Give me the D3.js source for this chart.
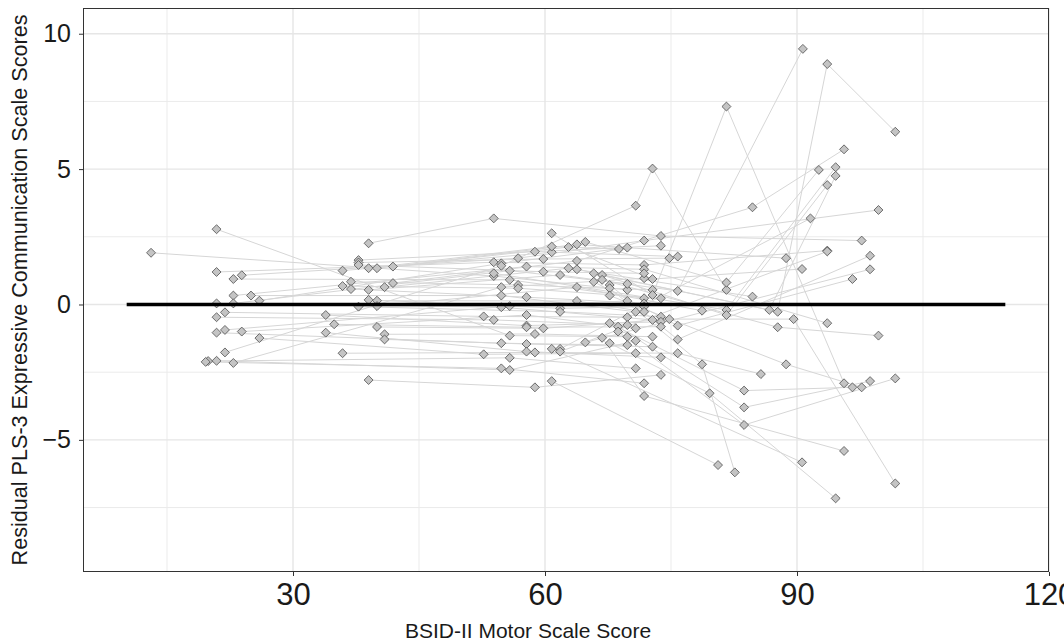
<!DOCTYPE html>
<html>
<head>
<meta charset="utf-8">
<script src="https://cdn.jsdelivr.net/npm/d3@7"></script>
<style>
  html, body { margin: 0; padding: 0; background: #ffffff; }
  svg { display: block; }
</style>
</head>
<body>
<svg id="chart" width="1064" height="644"></svg>
<script>
// Child trajectories: each child's visits in order (motor score, residual)
const child = [
  1,1,1, 2,2,2, 3,3,3,3, 4,4,4,4, 5,5,5, 6,6,6,6, 7,7,7, 8,8,8, 9,9,9, 10,10,10,
  11,11,11, 12,12,12, 13,13,13, 14,14,14, 15,15,15, 16,16,16, 17,17,17,17,17,
  18,18,18, 19,19,19, 20,20,20, 21,21,21,
  22,22,22,22, 23,23,23, 24,24,24, 25,25,25, 26,26,26, 27,27,27, 28,28,28,28,
  29,29,29, 30,30,30, 31,31,31, 32,32,32, 33,33,33,33, 34,34,34, 35,35,35,35,
  36,36,36, 37,37,37, 38,38,38, 39,39,39, 40,40,40, 41,41,41, 42,42,42,42,42,
  43,43,43, 44,44,44, 45,45,45, 46,46,46,46, 47,47,47,
  48,48,48,48, 49,49,49, 50,50,50,50, 51,51,51, 52,52,52, 53,53,53, 54,54,54,
  55,55,55, 56,56,56, 57,57,57, 58,58,58, 59,59,59, 60,60,60, 61,61,61,
  62,62,62, 63,63,63, 64,64, 65,65, 66,66, 67,67, 68,68
];
const motor = [
  13.1,53.9,69.8, 20.9,55.8,69.8, 20.9,53.9,71.8,93.6, 23.9,56.8,71.8,99.7,
  22.9,55.8,71.8, 22.9,57.8,71.8,93.6, 25.0,54.8,70.8, 26.0,54.8,69.8,
  20.9,54.8,72.8, 22.9,55.8,69.8, 21.9,52.7,69.8, 20.9,53.9,69.8,
  20.9,54.8,69.8, 21.9,55.8,69.8, 23.9,57.8,70.8, 26.0,52.7,70.8,
  21.9,54.8,70.8,72.8,81.6, 19.9,55.8,70.8, 19.6,54.8,71.8, 20.9,55.8,70.8,
  22.9,54.8,71.8,
  39.0,53.9,73.8,97.7, 37.8,58.8,73.8, 37.8,59.8,74.8, 37.8,59.8,71.8,
  35.9,60.8,75.8, 39.0,60.8,68.8, 40.0,62.8,72.8,90.6, 41.9,63.8,88.7,
  36.9,56.8,72.8, 35.9,56.8,73.8, 36.9,57.8,71.8, 39.0,61.8,75.8,90.7,
  40.9,62.8,84.7, 41.9,63.8,84.7,95.6, 39.0,61.8,71.8, 40.0,63.8,71.8,
  37.8,61.8,73.8, 40.0,63.8,78.7, 33.9,57.8,73.8, 34.9,57.8,73.8,
  40.0,59.8,74.8,89.6,101.7, 40.9,58.8,72.8, 40.9,57.8,72.8, 33.9,57.8,73.8,
  35.9,58.8,75.8,85.7, 39.0,58.8,73.8,
  60.8,72.8,81.6,95.6, 64.8,81.6,92.6, 63.8,87.7,93.6,101.7, 53.9,81.6,94.6,
  65.8,86.7,94.6, 66.8,81.6,93.6, 66.8,87.7,99.7, 65.8,75.8,96.6,
  67.7,75.8,98.7, 67.7,78.7,82.6, 67.7,88.7,97.7, 67.7,83.7,96.6,
  68.7,83.7,98.7, 68.7,83.7,101.7, 66.8,71.8,95.6, 67.7,79.6,94.6,
  64.8,98.7, 60.8,90.6, 61.8,91.6, 61.8,93.6, 60.8,80.6
];
const resid = [
  1.91,1.05,0.54, 2.78,-1.15,-1.19, 1.20,1.56,1.46,1.99, 1.08,1.71,2.36,3.49,
  0.94,0.91,0.23, 0.33,1.40,1.30,-0.69, 0.33,0.33,-0.27, 0.14,1.52,2.10,
  0.04,-0.10,-0.57, 0.04,1.25,0.76, -0.29,-0.44,-0.47, -0.47,-0.57,-0.76,
  -1.04,-1.43,-1.50, -0.94,-0.06,0.13, -1.00,-0.39,-0.88, -1.24,-1.84,-1.80,
  -1.77,1.43,3.65,5.02,0.54, -2.09,-1.97,-2.36, -2.12,-2.36,-2.91, -2.08,-2.42,-1.34,
  -2.16,0.64,0.97,
  2.26,3.18,2.53,2.36, 1.64,1.95,2.17, 1.55,1.68,1.71, 1.46,1.21,1.15,
  1.25,1.93,1.77, 1.34,2.14,2.05, 1.34,2.12,0.94,1.31, 1.40,2.22,1.71,
  0.84,0.72,0.54, 0.68,0.60,0.23, 0.57,0.27,0.04, 0.54,1.09,0.50,9.44,
  0.64,1.34,0.29, 0.79,1.61,3.59,5.73, 0.17,-0.14,-0.08, 0.14,0.13,-0.27,
  -0.08,-0.27,-0.45, -0.06,0.64,-0.23, -0.39,-0.78,-0.64, -0.73,-0.84,-0.82,
  -0.83,-0.88,-0.54,-0.54,-6.61, -1.10,-1.09,-1.19, -1.29,-1.46,-1.56, -1.04,-1.74,-1.95,
  -1.80,-1.77,-1.80,-2.57, -2.79,-3.06,-2.60,
  2.63,0.35,7.31,-2.91, 2.31,0.81,4.97, 1.30,-0.27,8.88,6.38, 1.15,-0.20,5.07,
  1.15,-0.20,4.75, 1.09,-0.39,4.41, 0.91,-0.84,-1.15, 0.84,-0.78,0.94,
  0.72,-1.29,1.80, 0.60,-2.21,-6.20, 0.33,-2.21,-3.06, -0.69,-3.18,-3.06,
  -0.82,-3.80,-2.83, -1.00,-4.45,-2.73, -1.23,-3.38,-5.41, -1.43,-3.28,-7.16,
  -1.40,1.30, -1.64,-5.83, -1.64,3.18, -1.74,1.96, -2.83,-5.93
];

// Axis ticks and reference line
const xMajor = [30, 60, 90, 120];
const xMinor = [15, 45, 75, 105];
const yMajor = [-5, 0, 5, 10];
const yMinor = [-7.5, -2.5, 2.5, 7.5];
const refLine = { from: 10.2, to: 114.8, value: 0 };

const xTitle = "BSID-II Motor Scale Score";
const yTitle = "Residual PLS-3 Expressive Communication Scale Scores";

const panel = { left: 83, right: 1049, top: 8, bottom: 572 };

const svg = d3.select("#chart");

const x = d3.scaleLinear().domain([5.0, 120.0]).range([panel.left, panel.right]);
const y = d3.scaleLinear().domain([-9.88, 10.95]).range([panel.bottom, panel.top]);

const points = child.map((c, i) => ({ child: c, motor: motor[i], resid: resid[i] }));
const byChild = d3.group(points, d => d.child);

// background
svg.append("rect")
  .attr("x", panel.left).attr("y", panel.top)
  .attr("width", panel.right - panel.left).attr("height", panel.bottom - panel.top)
  .attr("fill", "#ffffff");

const grid = svg.append("g");
grid.selectAll("line.vmin").data(xMinor).join("line")
  .attr("x1", d => x(d)).attr("x2", d => x(d))
  .attr("y1", panel.top).attr("y2", panel.bottom)
  .attr("stroke", "#ebebeb").attr("stroke-width", 1);
grid.selectAll("line.hmin").data(yMinor).join("line")
  .attr("y1", d => y(d)).attr("y2", d => y(d))
  .attr("x1", panel.left).attr("x2", panel.right)
  .attr("stroke", "#ebebeb").attr("stroke-width", 1);
grid.selectAll("line.vmaj").data(xMajor).join("line")
  .attr("x1", d => x(d)).attr("x2", d => x(d))
  .attr("y1", panel.top).attr("y2", panel.bottom)
  .attr("stroke", "#e6e6e6").attr("stroke-width", 1.4);
grid.selectAll("line.hmaj").data(yMajor).join("line")
  .attr("y1", d => y(d)).attr("y2", d => y(d))
  .attr("x1", panel.left).attr("x2", panel.right)
  .attr("stroke", "#e6e6e6").attr("stroke-width", 1.4);

// trajectories
const line = d3.line().x(d => x(d.motor)).y(d => y(d.resid));
svg.append("g").selectAll("path").data(Array.from(byChild.values())).join("path")
  .attr("d", d => line(d))
  .attr("fill", "none")
  .attr("stroke", "#d6d6d6")
  .attr("stroke-width", 1);

// points as diamonds
const diamond = d3.symbol().type(d3.symbolSquare).size(40);
svg.append("g").selectAll("path").data(points).join("path")
  .attr("d", diamond)
  .attr("transform", d => `translate(${x(d.motor)},${y(d.resid)}) rotate(45)`)
  .attr("fill", "#c4c4c4")
  .attr("stroke", "#505050")
  .attr("stroke-opacity", 0.85)
  .attr("stroke-width", 0.9);

// reference line at zero
svg.append("line")
  .attr("x1", x(refLine.from)).attr("x2", x(refLine.to))
  .attr("y1", y(refLine.value)).attr("y2", y(refLine.value))
  .attr("stroke", "#000000").attr("stroke-width", 3.6);

// panel border
svg.append("rect")
  .attr("x", panel.left + 0.5).attr("y", panel.top + 0.5)
  .attr("width", panel.right - panel.left - 1).attr("height", panel.bottom - panel.top - 1)
  .attr("fill", "none").attr("stroke", "#333333").attr("stroke-width", 1);

// axes
const xAxis = svg.append("g")
  .attr("transform", `translate(0,${panel.bottom})`)
  .call(d3.axisBottom(x).tickValues(xMajor).tickSize(4).tickSizeOuter(0));
xAxis.select(".domain").remove();
xAxis.selectAll(".tick line").attr("stroke", "#333333");
xAxis.selectAll(".tick text")
  .attr("y", 11).attr("dy", "0.71em")
  .attr("fill", "#1a1a1a")
  .style("font-family", "'Liberation Sans Narrow', 'Arial Narrow', sans-serif")
  .style("font-size", "31px");

const yAxis = svg.append("g")
  .attr("transform", `translate(${panel.left},0)`)
  .call(d3.axisLeft(y).tickValues(yMajor).tickSize(4).tickSizeOuter(0));
yAxis.select(".domain").remove();
yAxis.selectAll(".tick line").attr("stroke", "#333333");
yAxis.selectAll(".tick text")
  .attr("x", -12)
  .attr("fill", "#1a1a1a")
  .style("font-family", "'Liberation Sans', Arial, sans-serif")
  .style("font-size", "25px");

svg.append("text")
  .attr("x", (panel.left + panel.right) / 2 - 38).attr("y", 638)
  .attr("text-anchor", "middle")
  .attr("fill", "#1a1a1a")
  .style("font-family", "'Liberation Sans Narrow', 'Arial Narrow', sans-serif")
  .style("font-size", "21px")
  .text(xTitle);

svg.append("text")
  .attr("transform", `translate(27,${(panel.top + panel.bottom) / 2}) rotate(-90)`)
  .attr("text-anchor", "middle")
  .attr("fill", "#1a1a1a")
  .style("font-family", "'Liberation Sans', Arial, sans-serif")
  .style("font-size", "21.6px")
  .text(yTitle);
</script>
</body>
</html>
